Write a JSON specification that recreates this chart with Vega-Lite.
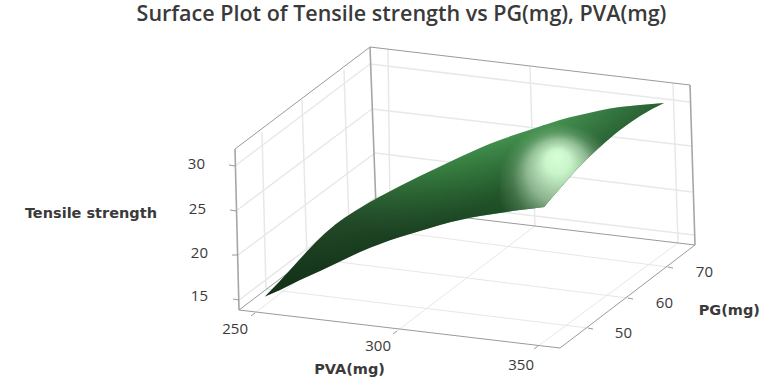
{
"$schema":"https://vega.github.io/schema/vega-lite/v6.json",
"width":769,"height":365,"padding":{"top":25,"left":0,"right":0,"bottom":0},"autosize":{"type":"none"},
"background":"white",
"config":{"view":{"stroke":null}},
"title":{"text":"Surface Plot of Tensile strength vs PG(mg), PVA(mg)","font":"Open Sans","fontSize":21.5,"fontWeight":600,"color":"#3a3a3a","anchor":"middle","frame":"group","offset":0,"dx":17},
"datasets":{
"seg":[
{"kind":"wall","name":"z30 left","x1":235,"y1":166,"x2":370,"y2":64},
{"kind":"wall","name":"z25 left","x1":236,"y1":211,"x2":372,"y2":109},
{"kind":"wall","name":"z20 left","x1":238,"y1":255,"x2":375,"y2":153},
{"kind":"wall","name":"z15 left","x1":239,"y1":300,"x2":376,"y2":197},
{"kind":"wall","name":"z30 right","x1":370,"y1":64,"x2":690,"y2":102},
{"kind":"wall","name":"z25 right","x1":372,"y1":109,"x2":691,"y2":146},
{"kind":"wall","name":"z20 right","x1":375,"y1":153,"x2":692,"y2":192},
{"kind":"wall","name":"z15 right","x1":376,"y1":197,"x2":694,"y2":235},
{"kind":"wall","name":"PG50 wall","x1":262,"y1":132,"x2":266,"y2":289},
{"kind":"wall","name":"PG60 wall","x1":302,"y1":100,"x2":307,"y2":258},
{"kind":"wall","name":"PG70 wall","x1":344,"y1":70,"x2":349,"y2":226},
{"kind":"wall","name":"PVA250 wall","x1":388,"y1":49,"x2":390,"y2":209},
{"kind":"wall","name":"PVA300 wall","x1":530,"y1":67,"x2":535,"y2":226},
{"kind":"wall","name":"PVA350 wall","x1":673,"y1":83,"x2":678,"y2":243},
{"kind":"floor","name":"PG50 floor","x1":266,"y1":289,"x2":588,"y2":328},
{"kind":"floor","name":"PG60 floor","x1":307,"y1":258,"x2":628,"y2":298},
{"kind":"floor","name":"PG70 floor","x1":349,"y1":226,"x2":668,"y2":267},
{"kind":"floor","name":"PVA250 floor","x1":255,"y1":313,"x2":390,"y2":209},
{"kind":"floor","name":"PVA300 floor","x1":397,"y1":331,"x2":535,"y2":226},
{"kind":"floor","name":"PVA350 floor","x1":538,"y1":346,"x2":678,"y2":243},
{"kind":"post","name":"back vertical","x1":370,"y1":47,"x2":376,"y2":207},
{"kind":"post","name":"left vertical","x1":235,"y1":149,"x2":239,"y2":310},
{"kind":"post","name":"right vertical","x1":690,"y1":85,"x2":695,"y2":245},
{"kind":"edge","name":"top left","x1":235,"y1":149,"x2":370,"y2":47},
{"kind":"edge","name":"top right","x1":370,"y1":47,"x2":690,"y2":85},
{"kind":"edge","name":"floor back left","x1":239,"y1":310,"x2":375,"y2":207},
{"kind":"edge","name":"floor back right","x1":375,"y1":207,"x2":695,"y2":245},
{"kind":"edge","name":"floor front","x1":239,"y1":310,"x2":560,"y2":348},
{"kind":"edge","name":"floor right","x1":560,"y1":348,"x2":695,"y2":245},
{"kind":"edge","name":"tick z30","x1":229,"y1":165,"x2":235,"y2":166},
{"kind":"edge","name":"tick z25","x1":230,"y1":210,"x2":236,"y2":211},
{"kind":"edge","name":"tick z20","x1":232,"y1":255,"x2":238,"y2":255},
{"kind":"edge","name":"tick z15","x1":233,"y1":299,"x2":239,"y2":300},
{"kind":"edge","name":"tick PVA250","x1":255,"y1":313,"x2":251,"y2":316},
{"kind":"edge","name":"tick PVA300","x1":397,"y1":331,"x2":393,"y2":334},
{"kind":"edge","name":"tick PVA350","x1":538,"y1":346,"x2":534,"y2":349},
{"kind":"edge","name":"tick PG50","x1":588,"y1":328,"x2":593,"y2":329},
{"kind":"edge","name":"tick PG60","x1":628,"y1":298,"x2":633,"y2":299},
{"kind":"edge","name":"tick PG70","x1":668,"y1":267,"x2":673,"y2":268}
],
"surf":[
{"sx":265,"top":296.5,"low":296.5},
{"sx":280,"top":281,"low":290},
{"sx":300,"top":259,"low":280},
{"sx":320,"top":238,"low":271},
{"sx":340,"top":221,"low":261.5},
{"sx":360,"top":208,"low":252},
{"sx":380,"top":196.5,"low":244},
{"sx":400,"top":186,"low":237},
{"sx":420,"top":176,"low":231},
{"sx":440,"top":166.5,"low":225},
{"sx":460,"top":157,"low":220},
{"sx":480,"top":148,"low":216},
{"sx":500,"top":140,"low":213},
{"sx":520,"top":133,"low":210},
{"sx":542,"top":125.7,"low":207.3},
{"sx":544,"top":125,"low":207},
{"sx":546,"top":124.4,"low":204.7},
{"sx":560,"top":120,"low":188.5},
{"sx":580,"top":115,"low":166},
{"sx":600,"top":110.5,"low":147},
{"sx":620,"top":107,"low":130},
{"sx":640,"top":105,"low":116},
{"sx":664,"top":103,"low":103}
],
"lab":[
{"kind":"tick","label":"30","sx":205,"sy":164},
{"kind":"tick","label":"25","sx":206,"sy":209},
{"kind":"tick","label":"20","sx":208,"sy":253},
{"kind":"tick","label":"15","sx":208,"sy":296},
{"kind":"tick","label":"250","sx":248,"sy":329},
{"kind":"tick","label":"300","sx":391,"sy":346},
{"kind":"tick","label":"350","sx":534,"sy":365},
{"kind":"tick","label":"50","sx":632,"sy":333},
{"kind":"tick","label":"60","sx":673,"sy":303},
{"kind":"tick","label":"70","sx":713,"sy":272},
{"kind":"title","label":"Tensile strength","sx":157,"sy":214},
{"kind":"title","label":"PVA(mg)","sx":385,"sy":370},
{"kind":"title","label":"PG(mg)","sx":760,"sy":311}
]
},
"layer":[
{"data":{"name":"seg"},"transform":[{"filter":"datum.kind==='wall'"}],"mark":{"type":"rule","color":"#e8e8e8","strokeWidth":1.5},
 "encoding":{"x":{"field":"x1","type":"quantitative","scale":{"domain":[0,769],"range":[0,769],"nice":false,"zero":false},"axis":null},"y":{"field":"y1","type":"quantitative","scale":{"domain":[25,390],"range":[0,365],"nice":false,"zero":false},"axis":null},"x2":{"field":"x2"},"y2":{"field":"y2"}}},
{"data":{"name":"seg"},"transform":[{"filter":"datum.kind==='floor'"}],"mark":{"type":"rule","color":"#e6e6e6","strokeWidth":1},
 "encoding":{"x":{"field":"x1","type":"quantitative","axis":null},"y":{"field":"y1","type":"quantitative","axis":null},"x2":{"field":"x2"},"y2":{"field":"y2"}}},
{"data":{"name":"seg"},"transform":[{"filter":"datum.kind==='post'"}],"mark":{"type":"rule","color":"#a6a6a6","strokeWidth":1.6},
 "encoding":{"x":{"field":"x1","type":"quantitative","axis":null},"y":{"field":"y1","type":"quantitative","axis":null},"x2":{"field":"x2"},"y2":{"field":"y2"}}},
{"data":{"name":"seg"},"transform":[{"filter":"datum.kind==='edge'"}],"mark":{"type":"rule","color":"#9a9a9a","strokeWidth":1},
 "encoding":{"x":{"field":"x1","type":"quantitative","axis":null},"y":{"field":"y1","type":"quantitative","axis":null},"x2":{"field":"x2"},"y2":{"field":"y2"}}},
{"data":{"name":"surf"},"mark":{"type":"area","orient":"vertical","interpolate":"monotone","fill":{"gradient":"linear","x1":0,"y1":1,"x2":1,"y2":0,"stops":[{"offset":0,"color":"#16361a"},{"offset":0.3,"color":"#26502c"},{"offset":0.55,"color":"#3a8644"},{"offset":0.8,"color":"#50a65d"},{"offset":1,"color":"#3d8a4a"}]}},
 "encoding":{"x":{"field":"sx","type":"quantitative","axis":null},"y":{"field":"top","type":"quantitative","axis":null},"y2":{"field":"low"}}},
{"data":{"name":"surf"},"mark":{"type":"area","orient":"vertical","interpolate":"monotone","fill":{"gradient":"linear","x1":0,"y1":0,"x2":1,"y2":1,"stops":[{"offset":0.36,"color":"rgba(12,40,18,0)"},{"offset":0.54,"color":"rgba(12,40,18,0.55)"},{"offset":0.7,"color":"rgba(12,40,18,0.6)"}]}},
 "encoding":{"x":{"field":"sx","type":"quantitative","axis":null},"y":{"field":"top","type":"quantitative","axis":null},"y2":{"field":"low"}}},
{"data":{"name":"surf"},"transform":[{"filter":"datum.sx>=500 && datum.sx<=620"}],"mark":{"type":"area","orient":"vertical","interpolate":"monotone","fill":{"gradient":"radial","x1":0.475,"y1":0.46,"r1":0,"x2":0.5,"y2":0.72,"r2":0.52,"stops":[{"offset":0,"color":"rgba(216,255,216,1)"},{"offset":0.2,"color":"rgba(208,250,208,0.96)"},{"offset":0.5,"color":"rgba(195,230,195,0.66)"},{"offset":0.75,"color":"rgba(170,210,170,0.24)"},{"offset":1,"color":"rgba(150,200,150,0)"}]}},
 "encoding":{"x":{"field":"sx","type":"quantitative","axis":null},"y":{"field":"top","type":"quantitative","axis":null},"y2":{"field":"low"}}},
{"data":{"name":"lab"},"transform":[{"filter":"datum.kind==='tick'"}],"mark":{"type":"text","align":"right","baseline":"middle","font":"Open Sans","fontSize":15,"color":"#3a3a3a"},
 "encoding":{"x":{"field":"sx","type":"quantitative","axis":null},"y":{"field":"sy","type":"quantitative","axis":null},"text":{"field":"label"}}},
{"data":{"name":"lab"},"transform":[{"filter":"datum.kind==='title'"}],"mark":{"type":"text","align":"right","baseline":"middle","font":"DejaVu Sans","fontSize":14.5,"fontWeight":700,"color":"#3a3a3a"},
 "encoding":{"x":{"field":"sx","type":"quantitative","axis":null},"y":{"field":"sy","type":"quantitative","axis":null},"text":{"field":"label"}}}
]
}
